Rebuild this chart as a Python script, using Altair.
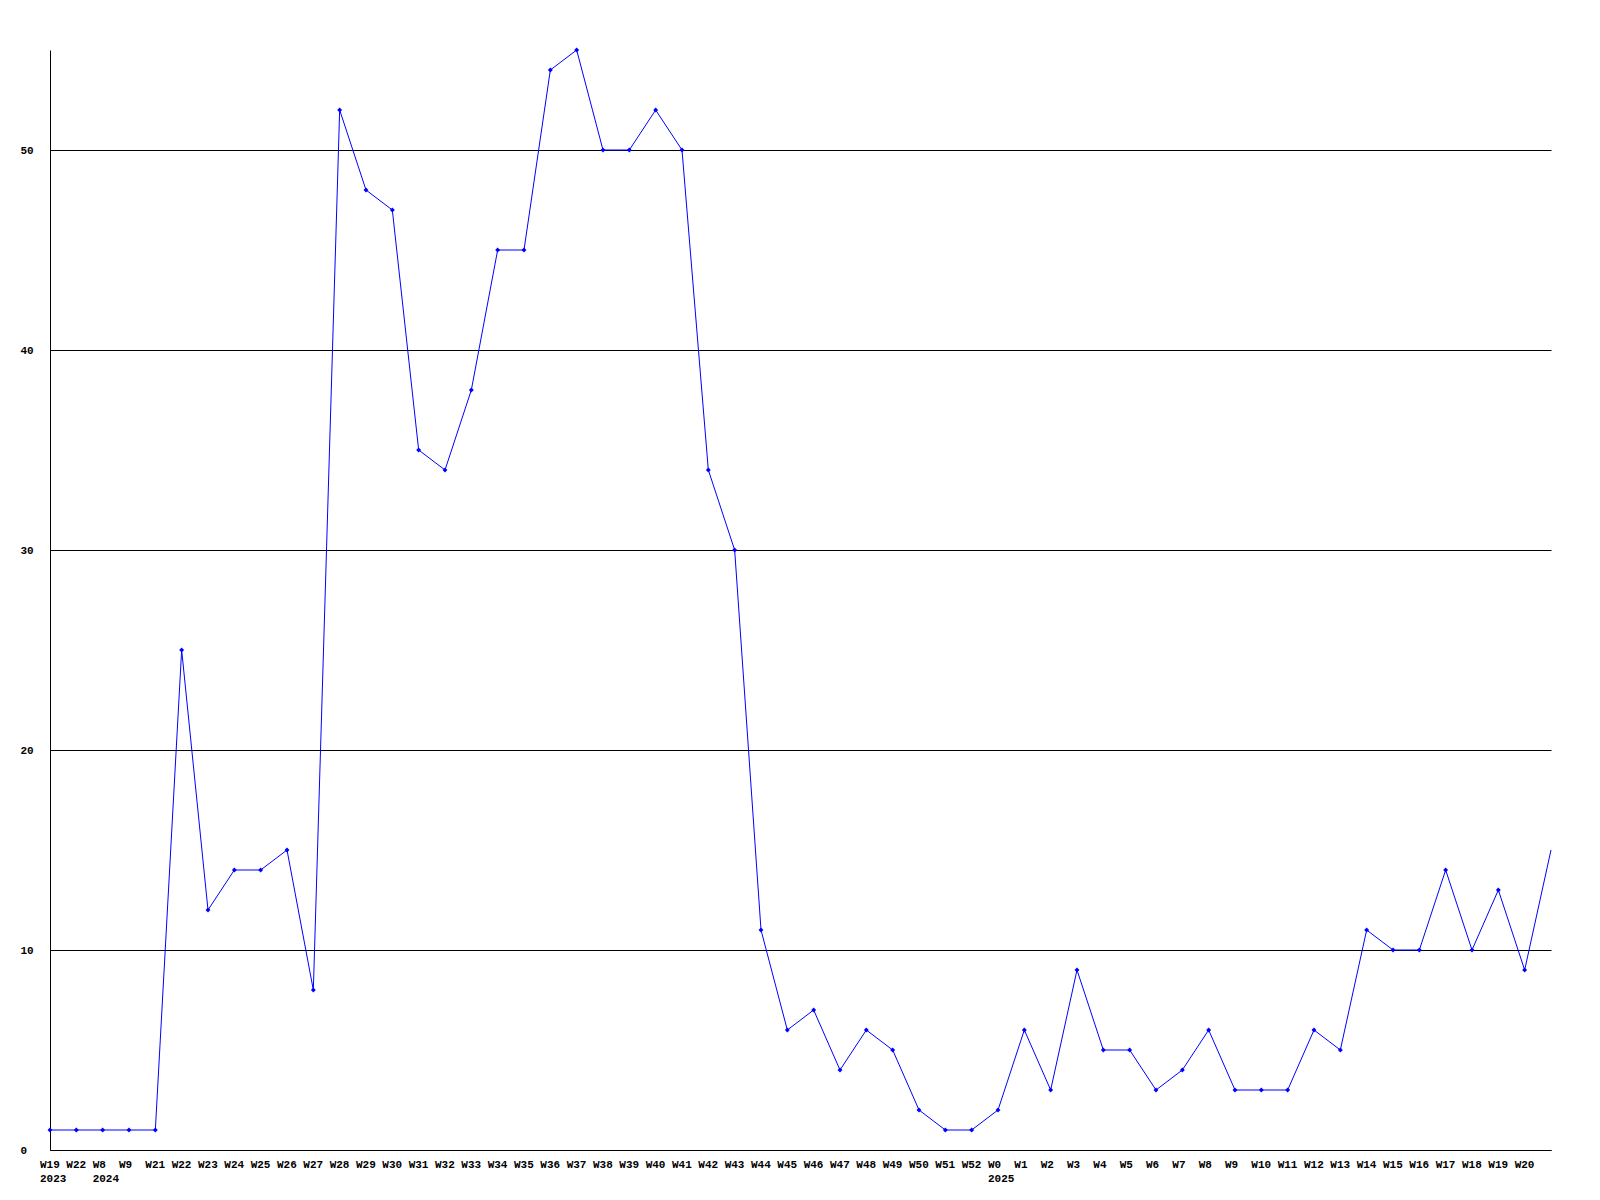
import altair as alt
import pandas as pd

weeks = ["W19", "W22", "W8", "W9", "W21", "W22", "W23", "W24", "W25", "W26", "W27", "W28",
         "W29", "W30", "W31", "W32", "W33", "W34", "W35", "W36", "W37", "W38", "W39", "W40",
         "W41", "W42", "W43", "W44", "W45", "W46", "W47", "W48", "W49", "W50", "W51", "W52",
         "W0", "W1", "W2", "W3", "W4", "W5", "W6", "W7", "W8", "W9", "W10", "W11", "W12",
         "W13", "W14", "W15", "W16", "W17", "W18", "W19", "W20", ""]
years = {0: "2023", 2: "2024", 36: "2025"}
values = [1, 1, 1, 1, 1, 25, 12, 14, 14, 15, 8, 52,
          48, 47, 35, 34, 38, 45, 45, 54, 55, 50, 50, 52,
          50, 34, 30, 11, 6, 7, 4, 6, 5, 2, 1, 1,
          2, 6, 3, 9, 5, 5, 3, 4, 6, 3, 3, 3, 6,
          5, 11, 10, 10, 14, 10, 13, 9, 15]

df = pd.DataFrame({"idx": list(range(len(values))), "value": values})
df_pts = df.iloc[:-1]

label_items = []
for i, w in enumerate(weeks):
    if i in years:
        label_items.append(f"['{w}','{years[i]}']")
    else:
        label_items.append(f"'{w}'")
label_expr = "[" + ",".join(label_items) + "][datum.value]"

FONT = "Liberation Mono"

x_enc = alt.X("idx:Q", scale=alt.Scale(domain=[0, len(values) - 1], nice=False, zero=False),
              axis=alt.Axis(values=list(range(len(weeks) - 1)), labelExpr=label_expr,
                            title=None, grid=False, ticks=False, domainColor="black",
                            labelAlign="left", labelOffset=-10.5, labelBaseline="top",
                            labelPadding=8, labelFont=FONT, labelFontSize=11,
                            labelFontWeight="bold", labelColor="black", labelOverlap=False,
                            labelLineHeight=14, labelBound=False, labelFlush=False))
y_enc = alt.Y("value:Q", scale=alt.Scale(domain=[0, 55], nice=False),
              axis=alt.Axis(values=[0, 10, 20, 30, 40, 50], title=None, grid=True,
                            gridColor="black", gridOpacity=1, ticks=False,
                            domainColor="black", labelAlign="left", labelPadding=30,
                            labelBaseline="middle", labelFont=FONT, labelFontSize=11,
                            labelFontWeight="bold", labelColor="black"))

line = alt.Chart(df).mark_line(color="#0000ff", strokeWidth=1).encode(x=x_enc, y=y_enc)
pts = alt.Chart(df_pts).mark_point(shape="diamond", size=24, color="#0000ff",
                                   filled=True, opacity=1).encode(x=x_enc, y=y_enc)

chart = alt.layer(line, pts).properties(
    width=1501, height=1100,
    autosize=alt.AutoSizeParams(type="none"),
    padding={"left": 42, "top": 42, "right": 30, "bottom": 40},
    background="white"
).configure_view(stroke=None)

chart.save("out.html", embed_options={"renderer": "svg", "actions": False})
